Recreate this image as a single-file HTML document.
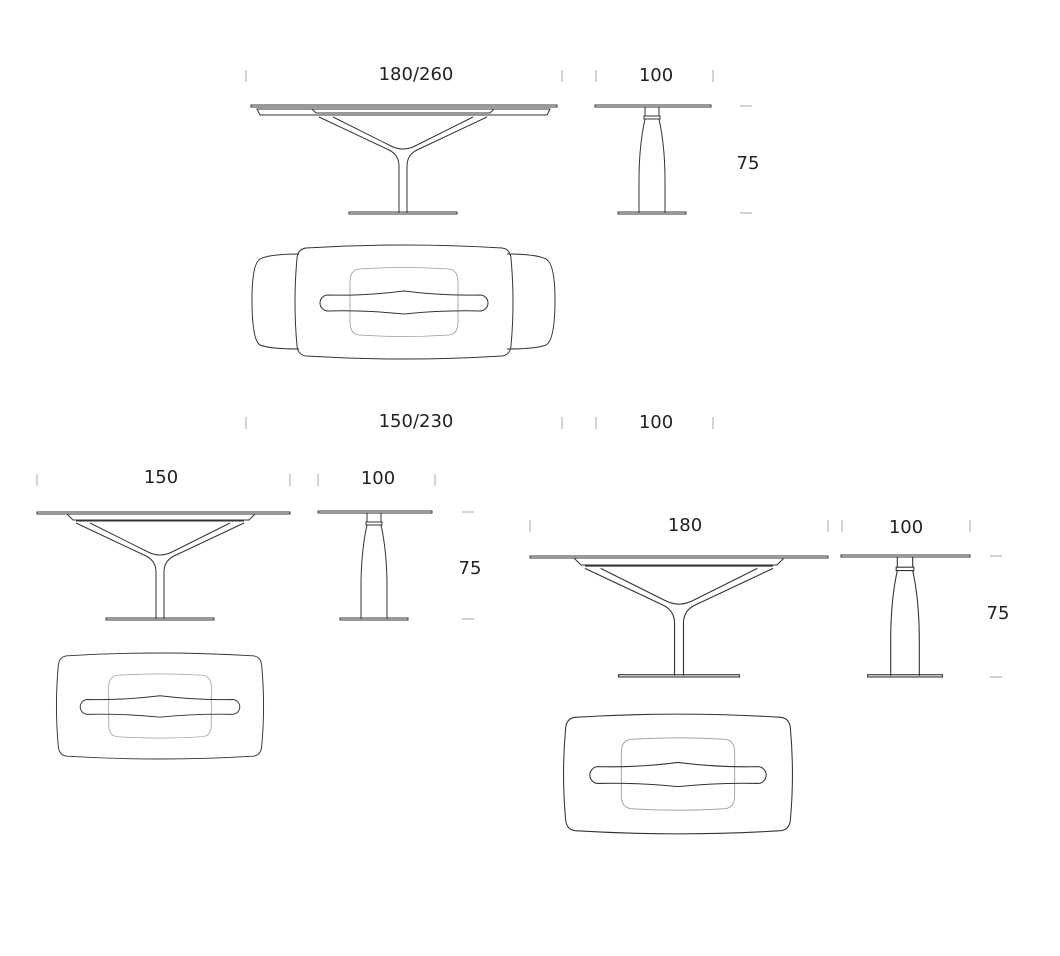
<!DOCTYPE html>
<html><head><meta charset="utf-8"><style>
html,body{margin:0;padding:0;background:#fff;}
svg{display:block;}
text{font-family:"DejaVu Sans","Liberation Sans",sans-serif;font-size:18px;fill:#222;}
.k{stroke:#333;stroke-width:1;fill:none;}
.g{stroke:#999;stroke-width:0.8;fill:none;}
.t{stroke:#aaa;stroke-width:1;}
</style></head><body>
<svg width="1060" height="956" viewBox="0 0 1060 956" xmlns="http://www.w3.org/2000/svg">
<defs>
<g id="side">
  <path class="k" d="M-7,1 L-7,10 M7,1 L7,10 M-8,10 L8,10 L8,13 L-8,13Z"/>
  <path class="k" d="M-7,13 Q-13,40 -13,75 L-13,107 M7,13 Q13,40 13,75 L13,107"/>
  <rect class="k" x="-34" y="106" width="68" height="2"/>
</g>
<g id="yb">
  <path class="k" d="M-84,9 L84,9"/>
  <path class="k" d="M-70,11 L-12,40 Q0,46 12,40 L70,11"/>
  <path class="k" d="M-84,11 L-14,44 Q-4,49 -4,60 L-4,107"/>
  <path class="k" d="M84,11 L14,44 Q4,49 4,60 L4,107"/>
  <rect class="k" x="-54" y="106" width="108" height="2"/>
</g>
<path id="body" d="M-98,-54 Q0,-60 98,-54 Q106,-53 107,-44 Q111,0 107,44 Q106,53 98,54 Q0,60 -98,54 Q-106,53 -107,44 Q-111,0 -107,-44 Q-106,-53 -98,-54Z"/>
<path id="inner" d="M-45,-33 Q0,-36 45,-33 Q54,-32 54,-20 L54,20 Q54,32 45,33 Q0,36 -45,33 Q-54,32 -54,20 L-54,-20 Q-54,-32 -45,-33Z"/>
<path id="slot" d="M-76,-7 Q-40,-6 0,-11 Q40,-6 76,-7 A8,8 0 0 1 76,9 Q40,8 0,12 Q-40,8 -76,9 A8,8 0 0 1 -76,-7Z"/>
</defs>

<!-- Table 1 -->
<text x="416" y="80" text-anchor="middle">180/260</text>
<text x="656" y="81" text-anchor="middle">100</text>
<text x="748" y="169" text-anchor="middle">75</text>
<path class="t" d="M246,70v12 M562,70v12 M596,70v12 M713,70v12 M740,106h12 M740,213h12"/>
<rect class="k" x="251" y="105" width="306" height="2"/>
<path class="k" d="M257,109 L550,109 L547,115 L260,115 Z"/>
<path class="k" d="M312,109 L494,109 L490,113 L316,113 Z"/>
<g transform="translate(403,106)"><use href="#yb"/></g>
<rect class="k" x="595" y="105" width="116" height="2"/>
<use href="#side" transform="translate(652,106)"/>
<path class="k" d="M299,254 Q270,254 260,259 Q252,264 252,300 Q252,340 260,345 Q270,349 299,349"/>
<path class="k" d="M507,254 Q536,254 546,259 Q555,264 555,300 Q555,340 546,345 Q536,349 507,349"/>
<g transform="translate(404,302)"><use href="#body" class="k" fill="#fff"/><use href="#inner" class="g"/><use href="#slot" class="k"/></g>

<!-- Table 2 -->
<text x="416" y="427" text-anchor="middle">150/230</text>
<text x="656" y="428" text-anchor="middle">100</text>
<path class="t" d="M246,417v12 M562,417v12 M596,417v12 M713,417v12"/>
<text x="161" y="483" text-anchor="middle">150</text>
<text x="378" y="484" text-anchor="middle">100</text>
<text x="470" y="574" text-anchor="middle">75</text>
<path class="t" d="M37,474v12 M290,474v12 M318,474v12 M435,474v12 M462,512h12 M462,619h12"/>
<rect class="k" x="37" y="512" width="253" height="2"/>
<path class="k" d="M67,514 L255,514 L249,520 L73,520 Z"/>
<g transform="translate(160,512)"><use href="#yb"/></g>
<rect class="k" x="318" y="511" width="114" height="2"/>
<use href="#side" transform="translate(374,512)"/>
<g transform="translate(160,706) scale(0.95,0.93)"><use href="#body" class="k"/><use href="#inner" class="g"/><use href="#slot" class="k"/></g>

<!-- Table 3 -->
<text x="685" y="531" text-anchor="middle">180</text>
<text x="906" y="533" text-anchor="middle">100</text>
<text x="998" y="619" text-anchor="middle">75</text>
<path class="t" d="M530,520v12 M828,520v12 M842,520v12 M970,520v12 M990,556h12 M990,677h12"/>
<rect class="k" x="530" y="556" width="298" height="2"/>
<path class="k" d="M574,558 L784,558 L777,565 L581,565 Z"/>
<g transform="translate(679,556) scale(1.12,1.12)"><use href="#yb"/></g>
<rect class="k" x="841" y="555" width="129" height="2"/>
<g transform="translate(905,556) scale(1.1,1.12)"><use href="#side"/></g>
<g transform="translate(678,774) scale(1.05,1.05)"><use href="#body" class="k"/><use href="#inner" class="g"/><use href="#slot" class="k"/></g>
</svg>
</body></html>
